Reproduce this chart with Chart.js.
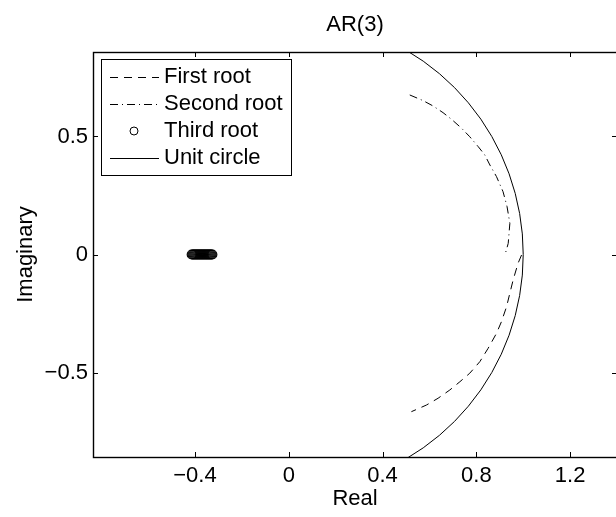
<!DOCTYPE html>
<html>
<head>
<meta charset="utf-8">
<script src="https://cdn.jsdelivr.net/npm/chart.js@4.4.1/dist/chart.umd.min.js"></script>
<style>
  html, body { margin: 0; padding: 0; background: #fff; overflow: hidden; }
  canvas { display: block; }
</style>
</head>
<body>
<canvas id="arChart" width="710" height="517"></canvas>
<script>
// values
const firstRootRe = [0.993, 0.978, 0.957, 0.943, 0.929, 0.907, 0.886, 0.850, 0.815, 0.772, 0.730, 0.687, 0.637, 0.587, 0.523];
const firstRootIm = [-0.002, -0.037, -0.108, -0.164, -0.221, -0.285, -0.334, -0.398, -0.454, -0.503, -0.539, -0.574, -0.609, -0.638, -0.666];

const secondRootRe = [0.516, 0.573, 0.616, 0.658, 0.694, 0.737, 0.772, 0.808, 0.836, 0.858, 0.886, 0.914, 0.931, 0.943, 0.936, 0.924];
const secondRootIm = [0.676, 0.652, 0.629, 0.601, 0.573, 0.535, 0.499, 0.457, 0.422, 0.379, 0.330, 0.266, 0.203, 0.132, 0.047, 0.005];

const thirdRootRe = [-0.414, -0.410, -0.406, -0.402, -0.398, -0.394, -0.390, -0.386, -0.382, -0.378, -0.374, -0.370,
                     -0.366, -0.362, -0.358, -0.354, -0.350, -0.346, -0.342, -0.338, -0.334, -0.330, -0.326];
const thirdRootIm = thirdRootRe.map(() => 0);

const circleRe = [0.5, 0.5736, 0.6428, 0.7071, 0.7660, 0.8192, 0.8660, 0.9063, 0.9397, 0.9659, 0.9848, 0.9962, 1,
                  0.9962, 0.9848, 0.9659, 0.9397, 0.9063, 0.8660, 0.8192, 0.7660, 0.7071, 0.6428, 0.5736, 0.5];
const circleIm = [-0.8660, -0.8192, -0.7660, -0.7071, -0.6428, -0.5736, -0.5, -0.4226, -0.3420, -0.2588, -0.1736, -0.0872, 0,
                  0.0872, 0.1736, 0.2588, 0.3420, 0.4226, 0.5, 0.5736, 0.6428, 0.7071, 0.7660, 0.8192, 0.8660];

const xTickValues = [-0.4, 0, 0.4, 0.8, 1.2];
const xTickLabels = ['\u22120.4', '0', '0.4', '0.8', '1.2'];
const yTickValues = [-0.5, 0, 0.5];
const yTickLabels = ['\u22120.5', '0', '0.5'];

const pts = (re, im) => re.map((r, i) => ({x: r, y: im[i]}));

const FONT = '"Liberation Sans", Arial, Helvetica, sans-serif';
Chart.defaults.font.family = FONT;
Chart.defaults.font.size = 22;
Chart.defaults.color = '#000';

// matlab style box with inward ticks
const axesBox = {
  id: 'axesBox',
  afterDatasetsDraw(chart) {
    const {ctx, chartArea: a, scales} = chart;
    ctx.save();
    ctx.strokeStyle = '#000';
    ctx.lineWidth = 1;
    ctx.beginPath();
    xTickValues.forEach(v => {
      const px = Math.round(scales.x.getPixelForValue(v)) + 0.5;
      ctx.moveTo(px, a.bottom); ctx.lineTo(px, a.bottom - 5);
      ctx.moveTo(px, a.top); ctx.lineTo(px, a.top + 5);
    });
    yTickValues.forEach(v => {
      const py = Math.round(scales.y.getPixelForValue(v)) + 0.5;
      ctx.moveTo(a.left, py); ctx.lineTo(a.left + 5, py);
      ctx.moveTo(a.right, py); ctx.lineTo(a.right - 5, py);
    });
    ctx.stroke();
    ctx.lineWidth = 1.4;
    ctx.strokeRect(Math.round(a.left) + 0.5, Math.round(a.top) + 0.5,
                   Math.round(a.right - a.left), Math.round(a.bottom - a.top));
    ctx.restore();
  }
};

const legendBox = {
  id: 'legendBox',
  afterDraw(chart) {
    const {ctx, chartArea: a} = chart;
    const x0 = Math.round(a.left) + 8, y0 = Math.round(a.top) + 7;
    const w = 190, h = 116, rowH = 27;
    ctx.save();
    ctx.fillStyle = '#fff';
    ctx.fillRect(x0, y0, w, h);
    ctx.strokeStyle = '#000';
    ctx.lineWidth = 1;
    ctx.strokeRect(x0 + 0.5, y0 + 0.5, w, h);
    ctx.font = '22px ' + FONT;
    ctx.textBaseline = 'middle';
    ctx.fillStyle = '#000';
    chart.data.datasets.forEach((ds, i) => {
      const cy = y0 + 18 + i * rowH;
      ctx.beginPath();
      if (ds.showLine) {
        ctx.setLineDash(ds.borderDash || []);
        ctx.moveTo(x0 + 9, cy + 0.5);
        ctx.lineTo(x0 + 58, cy + 0.5);
        ctx.stroke();
        ctx.setLineDash([]);
      } else {
        ctx.arc(x0 + 33, cy, 4, 0, Math.PI * 2);
        ctx.stroke();
      }
      ctx.fillText(ds.label, x0 + 63, cy);
    });
    ctx.restore();
  }
};

new Chart(document.getElementById('arChart'), {
  type: 'scatter',
  data: {
    datasets: [
      {label: 'First root', data: pts(firstRootRe, firstRootIm), showLine: true, borderDash: [8, 6],
       borderColor: '#000', borderWidth: 1, pointRadius: 0, clip: 0},
      {label: 'Second root', data: pts(secondRootRe, secondRootIm), showLine: true, borderDash: [8, 4, 1, 4],
       borderColor: '#000', borderWidth: 1, pointRadius: 0, clip: 0},
      {label: 'Third root', data: pts(thirdRootRe, thirdRootIm), showLine: false,
       borderColor: '#000', backgroundColor: 'rgba(0,0,0,0)', borderWidth: 1.2, pointRadius: 4.5, clip: 0},
      {label: 'Unit circle', data: pts(circleRe, circleIm), showLine: true,
       borderColor: '#000', borderWidth: 1, pointRadius: 0, clip: 0}
    ]
  },
  options: {
    responsive: false,
    animation: false,
    layout: {padding: 0},
    plugins: {
      legend: {display: false},
      tooltip: {enabled: false},
      title: {display: true, text: 'AR(3)', font: {size: 22, weight: 'normal'}, padding: {top: 12, bottom: 13.6}}
    },
    scales: {
      x: {
        type: 'linear', min: -0.835, max: 1.40,
        grid: {display: false, drawTicks: false},
        border: {display: false},
        afterBuildTicks: s => { s.ticks = xTickValues.map(v => ({value: v})); },
        afterFit: s => { s.height = 60; },
        ticks: {autoSkip: false, maxRotation: 0, padding: 6,
                callback: v => xTickLabels[xTickValues.indexOf(v)]},
        title: {display: true, text: 'Real', font: {size: 22}, padding: {top: 0, bottom: 5}}
      },
      y: {
        type: 'linear', min: -0.858, max: 0.858,
        grid: {display: false, drawTicks: false},
        border: {display: false},
        afterBuildTicks: s => { s.ticks = yTickValues.map(v => ({value: v})); },
        afterFit: s => { s.width = 93; },
        ticks: {autoSkip: false, padding: 5,
                callback: v => yTickLabels[yTickValues.indexOf(v)]},
        title: {display: true, text: 'Imaginary', font: {size: 22}, padding: {top: 13, bottom: 0}}
      },
      // empty right axis, only reserves the space that falls outside the window
      yRight: {
        type: 'linear', position: 'right', min: -0.858, max: 0.858,
        grid: {display: false, drawTicks: false},
        border: {display: false},
        ticks: {display: false},
        afterFit: s => { s.width = 93; }
      }
    }
  },
  plugins: [axesBox, legendBox]
});
</script>
</body>
</html>
